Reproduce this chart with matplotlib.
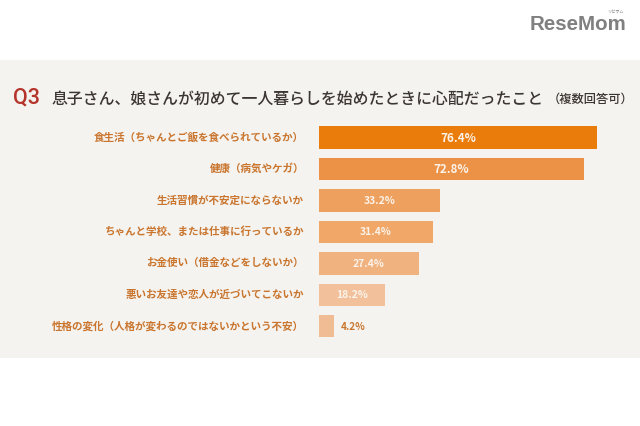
import matplotlib
matplotlib.use('Agg')
import matplotlib.pyplot as plt
from matplotlib.patches import Rectangle

plt.rcParams['font.family'] = ['Noto Sans CJK JP', 'DejaVu Sans']

categories = ['食生活（ちゃんとご飯を食べられているか）', '健康（病気やケガ）', '生活習慣が不安定にならないか',
              'ちゃんと学校、または仕事に行っているか', 'お金使い（借金などをしないか）',
              '悪いお友達や恋人が近づいてこないか', '性格の変化（人格が変わるのではないかという不安）']
values = [76.4, 72.8, 33.2, 31.4, 27.4, 18.2, 4.2]
value_labels = ['76.4%', '72.8%', '33.2%', '31.4%', '27.4%', '18.2%', '4.2%']
bar_colors = ['#ea7c0b', '#ec9247', '#eea05e', '#f0a768', '#f0b27f', '#f2c09a', '#f0bc94']
title_q = 'Q3'
title_main = '息子さん、娘さんが初めて一人暮らしを始めたときに心配だったこと'
title_note = '（複数回答可）'
logo = 'ReseMom'
logo_kana = 'リセマム'

W, H = 640, 426
fig = plt.figure(figsize=(W / 100, H / 100), dpi=100, facecolor='white')
fig.patches.append(Rectangle((0, 1 - 358 / H), 1, (358 - 60) / H, transform=fig.transFigure,
                             facecolor='#f5f3ef', edgecolor='none', zorder=-1))

ax = fig.add_axes([0, 0, 1, 1])
ax.patch.set_visible(False)
ax.axis('off')
scale = 3.635
ax.set_xlim(-319 / scale, (W - 319) / scale)
step = 31.45
y0 = 137.5
ax.set_ylim((H - y0) / step, -y0 / step)

pos = list(range(len(values)))
ax.barh(pos, values, height=22.5 / step, color=bar_colors, left=0)

for i, (c, v, l) in enumerate(zip(categories, values, value_labels)):
    ax.text(-15 / scale, i, c, ha='right', va='center', fontsize=7.6, color='#c9752e', fontweight='bold')
    if v > 10:
        ax.text(v / 2, i + 0.02, l, ha='center', va='center', fontsize=8.4 if i < 2 else 7.5,
                color='#fbf3ea', fontweight='bold')
    else:
        ax.text(v + 6 / scale, i + 0.02, l, ha='left', va='center', fontsize=7.2,
                color='#c9752e', fontweight='bold')

fig.text(13 / W, 1 - 98 / H, title_q, fontsize=15.5, color='#b5342b', va='center', ha='left',
         family='Roboto', fontweight='medium')
fig.text(52 / W, 1 - 99 / H, title_main, fontsize=11.4, color='#3c3632', va='center', ha='left', fontweight='medium')
fig.text(633 / W, 1 - 99 / H, title_note, fontsize=8.8, color='#3c3632', va='center', ha='right', fontweight='medium')

fig.text(530 / W, 1 - 25 / H, logo, fontsize=14.8, color='#808080', fontweight='bold', va='center', ha='left',
         family='Liberation Sans')
fig.text(607 / W, 1 - 12 / H, logo_kana, fontsize=3, color='#808080', va='center', ha='left')

fig.savefig('out.png', dpi=100)
